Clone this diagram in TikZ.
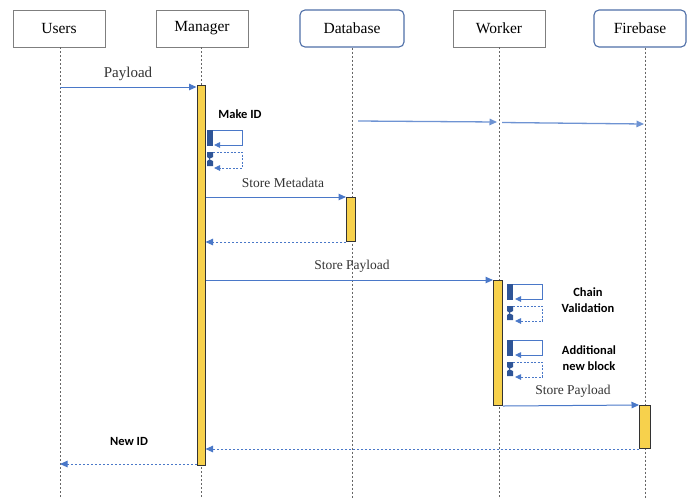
\documentclass[tikz,border=0pt]{standalone}
\usepackage{fontspec}
\setmainfont{Liberation Serif}
\newfontfamily\lblfont{Carlito}
\usetikzlibrary{arrows.meta}
\definecolor{arrblue}{HTML}{4A78C8}
\definecolor{darkblue}{HTML}{2F5597}
\definecolor{baryel}{HTML}{F7D14C}
\definecolor{boxgray}{HTML}{7F7F7F}
\definecolor{rndblue}{HTML}{4F6FA8}
\tikzset{
  hbox/.style={draw=boxgray, line width=0.9pt, fill=white, minimum width=92pt, minimum height=37pt, font=\fontsize{15.5}{15}\selectfont, inner sep=0pt},
  rbox/.style={hbox, draw=rndblue, line width=1.1pt, rounded corners=5pt},
  life/.style={draw=gray!80!black, line width=0.8pt, dash pattern=on 2pt off 2pt},
  actbar/.style={draw=gray!40!black, line width=1pt, fill=baryel, minimum width=8pt, inner sep=0pt, anchor=north},
  msg/.style={draw=arrblue, line width=1pt, -{Triangle[length=7.5pt,width=6.5pt]}},
  ret/.style={msg, dash pattern=on 2pt off 2pt},
  slbl/.style={font=\fontsize{13.5}{14}\selectfont, text=black!80},
  blbl/.style={font=\lblfont\bfseries\fontsize{12.5}{15.5}\selectfont, align=center},
  selfsq/.style={fill=darkblue, draw=none},
  selfline/.style={draw=arrblue, line width=0.9pt, -{Triangle[length=6pt,width=5.5pt]}},
  selfdash/.style={selfline, dash pattern=on 2pt off 1.5pt},
}
\begin{document}
\begin{tikzpicture}[x=1pt,y=-1pt]
\useasboundingbox (0,0) rectangle (687,499);
% headers
\node[hbox] (users) at (59,28.5) {Users};
\node[hbox] (manager) at (202,28.5) {Manager};
\node[rbox, minimum width=104pt] (database) at (352,28.5) {Database};
\node[hbox] (worker) at (499,28.5) {Worker};
\node[rbox] (firebase) at (640,28.5) {Firebase};
% lifelines
\coordinate (uE) at (60,499);
\coordinate (mE) at (201,499);
\coordinate (dE) at (352,499);
\coordinate (wE) at (499,499);
\coordinate (fE) at (645,499);
\draw[life] (users.south -| uE) -- (uE);
\draw[life] (manager.south -| mE) -- (mE);
\draw[life] (database.south -| dE) -- (dE);
\draw[life] (worker.south -| wE) -- (wE);
\draw[life] (firebase.south -| fE) -- (fE);
% activation bars
\node[actbar, minimum height=380pt] (mbar) at (201,85) {};
\node[actbar, minimum height=44pt, minimum width=9pt] (dbar) at (351,197) {};
\node[actbar, minimum height=125pt, minimum width=9pt] (wbar) at (498,280) {};
\node[actbar, minimum height=43pt, minimum width=11pt] (fbar) at (645,405) {};
% payload
\coordinate (pS) at (60,87);
\draw[msg] (pS) -- (mbar.north west |- pS);
\node[slbl, font=\fontsize{15}{15}\selectfont] (lpay) at (128,74) {Payload};
% Make ID
\node[blbl] (lmake) at (240,114) {Make ID};
\coordinate (s1a) at (207,130);
\coordinate (s1b) at (213,146);
\fill[selfsq] (s1a) rectangle (s1b);
\coordinate (s1c) at (242,130);
\coordinate (s1d) at (242,145);
\coordinate (s1e) at (214,145);
\draw[selfline] (s1b |- s1a) -- (s1c) -- (s1d) -- (s1e);
\fill[selfsq] (207,152) -- (213,152) -- (213,157) -- (209,159) -- (213,161) -- (213,166) -- (207,166) -- (207,161) -- (210,159) -- (207,157) -- cycle;
\coordinate (s2a) at (213,152);
\coordinate (s2c) at (242,152);
\coordinate (s2d) at (242,168);
\coordinate (s2e) at (214,168);
\draw[selfdash] (s2a) -- (s2c) -- (s2d) -- (s2e);
% database -> worker -> firebase
\coordinate (dw1) at (358,121);
\coordinate (dw2) at (497,122);
\coordinate (wf1) at (502,122.5);
\coordinate (wf2) at (644,124);
\draw[msg, line width=1.3pt, draw=arrblue!80] (dw1) -- (dw2);
\draw[msg, line width=1.3pt, draw=arrblue!80] (wf1) -- (wf2);
% store metadata
\node[slbl] (lmeta) at (283,183) {Store Metadata};
\draw[msg] (mbar.east |- dbar.north) -- (dbar.north west);
\draw[ret] (dbar.south west) -- (mbar.east |- dbar.south);
% store payload
\node[slbl] (lpay2) at (352,266) {Store Payload};
\draw[msg] (mbar.east |- wbar.north) -- (wbar.north west);
% chain validation
\node[blbl] (lchain) at (588,300) {Chain\\Validation};
\fill[selfsq] (507,284) rectangle (513,300);
\coordinate (c1a) at (513,284);
\coordinate (c1c) at (542,284);
\coordinate (c1d) at (542,299);
\coordinate (c1e) at (515,299);
\draw[selfline] (c1a) -- (c1c) -- (c1d) -- (c1e);
\fill[selfsq] (507,306) -- (513,306) -- (513,311) -- (509,313) -- (513,315) -- (513,320) -- (507,320) -- (507,315) -- (510,313) -- (507,311) -- cycle;
\coordinate (c2a) at (513,306);
\coordinate (c2c) at (542,306);
\coordinate (c2d) at (542,321);
\coordinate (c2e) at (515,321);
\draw[selfdash] (c2a) -- (c2c) -- (c2d) -- (c2e);
% additional new block
\node[blbl] (ladd) at (589,358) {Additional\\new block};
\fill[selfsq] (507,340) rectangle (513,356);
\coordinate (a1a) at (513,340);
\coordinate (a1c) at (542,340);
\coordinate (a1d) at (542,355);
\coordinate (a1e) at (515,355);
\draw[selfline] (a1a) -- (a1c) -- (a1d) -- (a1e);
\fill[selfsq] (507,362) -- (513,362) -- (513,367) -- (509,369) -- (513,371) -- (513,376) -- (507,376) -- (507,371) -- (510,369) -- (507,367) -- cycle;
\coordinate (a2a) at (513,362);
\coordinate (a2c) at (542,362);
\coordinate (a2d) at (542,377);
\coordinate (a2e) at (515,377);
\draw[selfdash] (a2a) -- (a2c) -- (a2d) -- (a2e);
% store payload to firebase
\node[slbl] (lpay3) at (573,391) {Store Payload};
\draw[msg] (wbar.south east) -- (fbar.north west);
% returns
\draw[ret] (fbar.south west) -- (mbar.east |- fbar.south);
\node[blbl] (lnew) at (129,441) {New ID};
\coordinate (nE) at (60,464);
\draw[ret] (mbar.west |- nE) -- (nE);
\end{tikzpicture}
\end{document}
